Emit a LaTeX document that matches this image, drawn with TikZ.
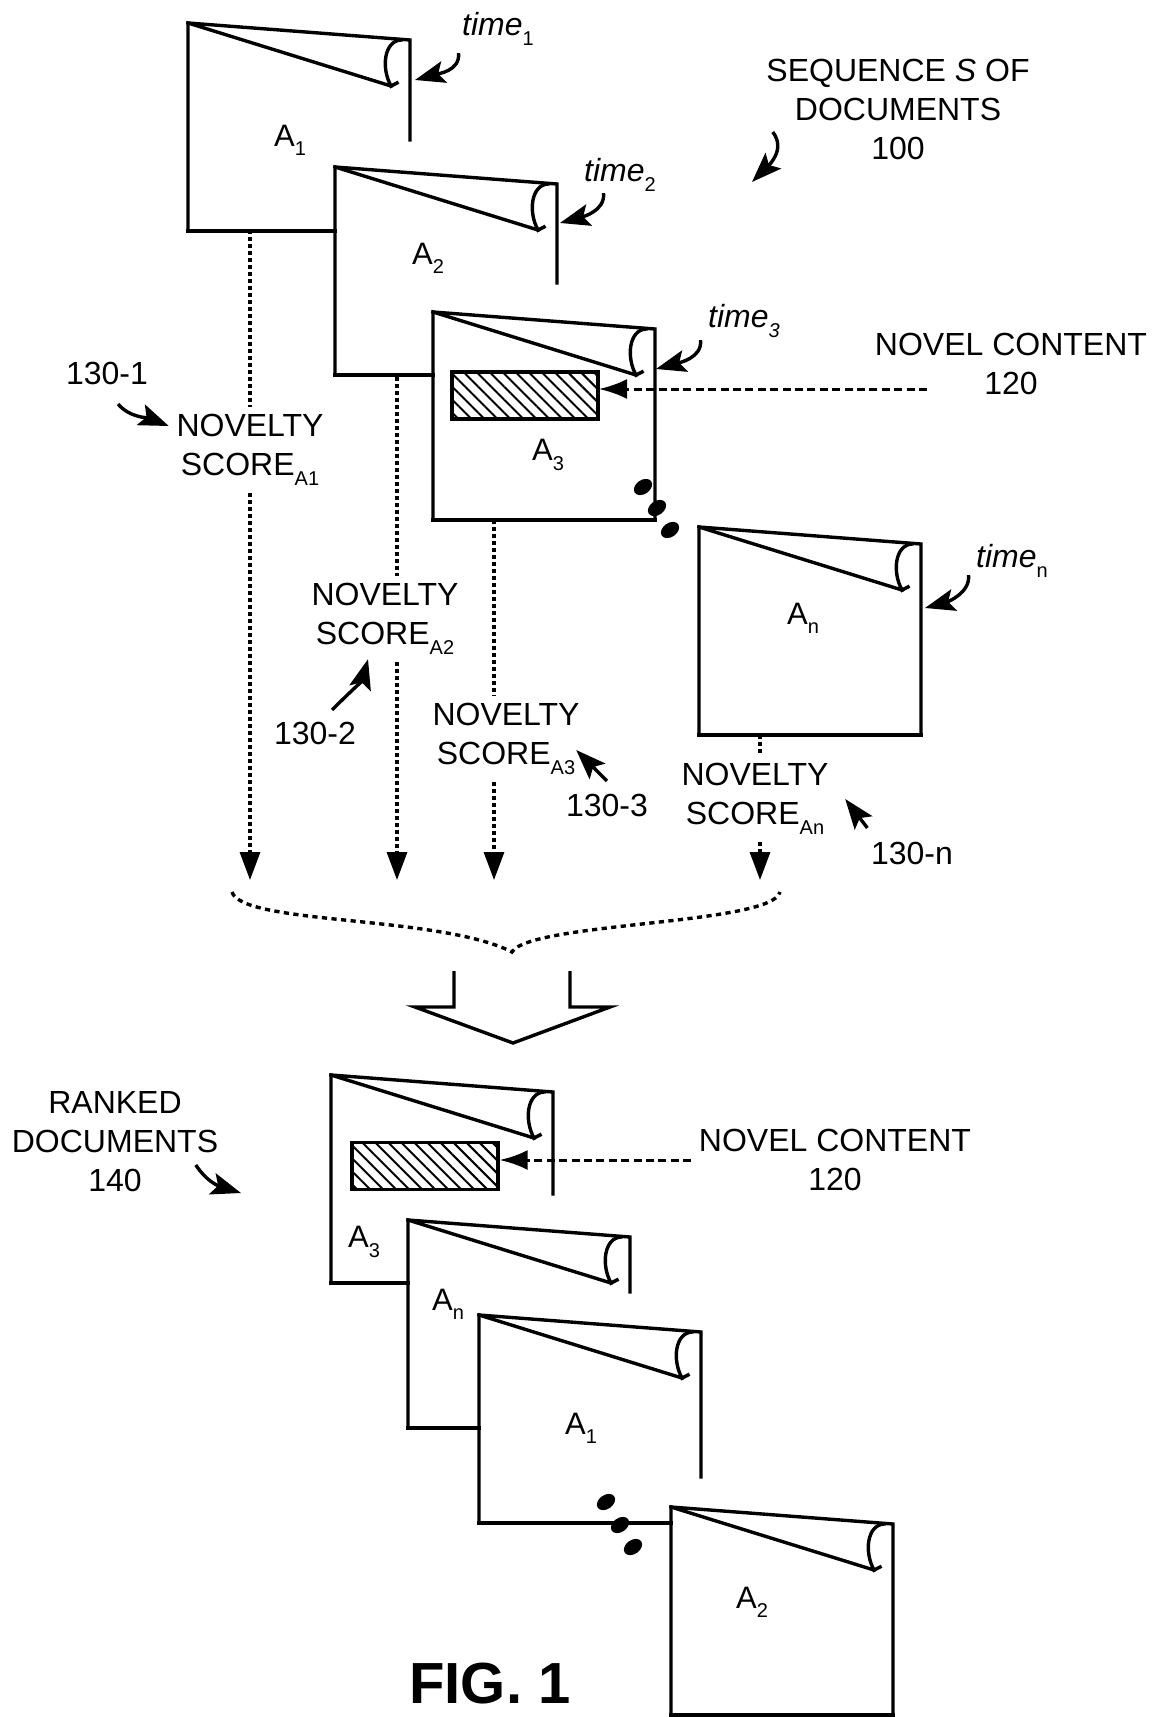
\documentclass[tikz,border=0pt]{standalone}
\usepackage{fontspec}
\setmainfont{Liberation Sans}
\usetikzlibrary{arrows.meta,patterns.meta}

\newcommand{\subtxt}[1]{\raisebox{-0.3em}{\fontsize{10}{12}\selectfont #1}}
% one sheet: top left corner, length of right edge, length of bottom edge
\newcommand{\docsheet}[4]{%
  \begin{scope}[shift={(#1,#2)},line cap=rect]
    \draw (0,208) -- (0,0) -- (222,17) -- (222,17+#3);
    \draw (0,208) -- (#4,208);
    \draw (0,0) -- (203,63);
    \draw (203,63) .. controls (193,45) and (196,18) .. (213,17);
    \draw (203,63) -- (209,60);
  \end{scope}}

\begin{document}
\begin{tikzpicture}[x=0.5pt,y=-0.5pt,line width=1.7pt,
  txt/.style={inner sep=3pt,font=\fontsize{16}{19.5}\selectfont,align=center},
  pagelbl/.style={inner sep=1pt,font=\fontsize{15.5}{18}\selectfont},
  timelbl/.style={inner sep=3pt,font=\fontsize{16}{19.5}\selectfont\itshape},
  dotline/.style={line width=1.6pt,dash pattern=on 1.8pt off 1.7pt},
  dotarrow/.style={dotline,-{Triangle[length=14pt,width=10pt]}},
  dasharrow/.style={line width=1.5pt,dash pattern=on 4pt off 2.2pt,-{Latex[length=14pt,width=10pt]}},
  callout/.style={line width=1.7pt,-{Stealth[length=15pt,width=11pt,inset=3pt]}},
  hatchbox/.style={draw,minimum width=73pt,minimum height=23.5pt,inner sep=0pt,
    pattern={Lines[angle=-45,distance=4.6pt,line width=1pt]}}]

  \useasboundingbox (0,0) rectangle (1153,1717);

  % sequence S of documents
  \docsheet{188}{23}{100}{147}
  \docsheet{335}{167}{99}{98}
  \docsheet{433}{312}{191}{222}
  \docsheet{699}{527}{191}{222}

  \node[pagelbl] (lA1) at (290,140) {A\subtxt{1}};
  \node[pagelbl] (lA2) at (428,258) {A\subtxt{2}};
  \node[pagelbl] (lA3) at (548,455) {A\subtxt{3}};
  \node[pagelbl] (lAn) at (803,618) {A\subtxt{n}};

  \foreach \p in {(643,487),(657,508),(670,530)}
    \fill[rotate around={35:\p}] \p ellipse [x radius=10,y radius=7];

  \node[hatchbox] (nc1) at (525,395.5) {};
  \node[txt] (nov1) at (1011,364) {NOVEL CONTENT\\120};
  \coordinate (nov1end) at (927,389);
  \draw[dasharrow] (nov1end) -- (nov1end -| nc1.east);

  \node[txt] (seq) at (898,109) {SEQUENCE \textit{S} OF\\DOCUMENTS\\100};
  \coordinate (seqend) at (752,182);
  \draw[callout] ([shift={(14,23)}]seq.west) .. controls +(14,18) and +(15,-15) .. (seqend);

  % times
  \node[timelbl] (time1) at (498,29) {time\subtxt{\upshape 1}};
  \node[timelbl] (time2) at (620,175) {time\subtxt{\upshape 2}};
  \node[timelbl] (time3) at (744,321) {time\subtxt{3}};
  \node[timelbl] (timen) at (1012,561) {time\subtxt{\upshape n}};
  \coordinate (t1end) at (415,80);
  \coordinate (t2end) at (560,223);
  \coordinate (t3end) at (656,369);
  \coordinate (tnend) at (925,608);
  \draw[callout] ([shift={(4,0)}]time1.south west) .. controls +(2,18) and +(22,-6) .. (t1end);
  \draw[callout] ([shift={(27,-6)}]time2.south west) .. controls +(2,18) and +(22,-6) .. (t2end);
  \draw[callout] ([shift={(0,-5)}]time3.south west) .. controls +(2,18) and +(22,-6) .. (t3end);
  \draw[callout] ([shift={(0,-10)}]timen.south west) .. controls +(2,18) and +(22,-6) .. (tnend);

  % novelty scores
  \node[txt] (scA1) at (250,450) {NOVELTY\\SCORE\subtxt{A1}};
  \node[txt] (scA2) at (385,619) {NOVELTY\\SCORE\subtxt{A2}};
  \node[txt] (scA3) at (506,739) {NOVELTY\\SCORE\subtxt{A3}};
  \node[txt] (scAn) at (755,799) {NOVELTY\\SCORE\subtxt{An}};

  \coordinate (A1b) at (250,230);
  \coordinate (A2b) at (397,377);
  \coordinate (A3b) at (494,520);
  \coordinate (Anb) at (760,735);
  \coordinate (A1e) at (250,880);
  \coordinate (A2e) at (397,880);
  \coordinate (A3e) at (494,880);
  \coordinate (Ane) at (760,880);
  \draw[dotline] (A1b) -- (A1b |- scA1.north);
  \draw[dotarrow] (A1b |- scA1.south) -- (A1e);
  \draw[dotline] (A2b) -- (A2b |- scA2.north);
  \draw[dotarrow] (A2b |- scA2.south) -- (A2e);
  \draw[dotline] (A3b) -- (A3b |- scA3.north);
  \draw[dotarrow] (A3b |- scA3.south) -- (A3e);
  \draw[dotline] (Anb) -- (Anb |- scAn.north);
  \draw[dotarrow] (Anb |- scAn.south) -- (Ane);

  \node[txt] (l1301) at (107,373) {130-1};
  \node[txt] (l1302) at (315,733) {130-2};
  \node[txt] (l1303) at (607,805) {130-3};
  \node[txt] (l130n) at (912,853) {130-n};
  \draw[callout] ([shift={(11,12)}]l1301.south) .. controls +(12,14) and +(-20,-8) .. ([shift={(0,-24)}]scA1.west);
  \draw[callout] ([shift={(17,-4)}]l1302.north) .. controls +(18,-18) and +(-6,22) .. ([shift={(-17,-3)}]scA2.south);
  \draw[callout] ([shift={(0,-5)}]l1303.north) -- ([shift={(-11,11)}]scA3.east);
  \draw[callout] ([shift={(4,-6)}]l130n.north west) -- ([shift={(9,0)}]scAn.east);

  % brace and merge arrow
  \draw[line width=1.7pt,dash pattern=on 2.6pt off 2.2pt]
    (232,892) .. controls (242,925) and (440,915) .. (512,952)
    .. controls (530,922) and (772,925) .. (780,892);
  \draw[miter limit=20] (454,971) -- (454,1007) -- (415,1007) -- (513,1043)
    -- (610,1007) -- (570,1007) -- (570,971);

  % ranked documents
  \docsheet{331}{1075}{102}{77}
  \docsheet{408}{1220}{55}{71}
  \docsheet{479}{1315}{145}{192}
  \docsheet{671}{1507}{191}{222}

  \node[pagelbl] (rA3) at (364,1242) {A\subtxt{3}};
  \node[pagelbl] (rAn) at (448,1304) {A\subtxt{n}};
  \node[pagelbl] (rA1) at (581,1428) {A\subtxt{1}};
  \node[pagelbl] (rA2) at (752,1602) {A\subtxt{2}};

  \foreach \p in {(606,1502),(620,1525),(633,1547)}
    \fill[rotate around={35:\p}] \p ellipse [x radius=10,y radius=7];

  \node[hatchbox] (nc2) at (425,1166) {};
  \node[txt] (nov2) at (835,1160) {NOVEL CONTENT\\120};
  \draw[dasharrow] (nov2.west) -- (nov2.west -| nc2.east);

  \node[txt] (rank) at (115,1142) {RANKED\\DOCUMENTS\\140};
  \coordinate (rankend) at (241,1193);
  \draw[callout] ([shift={(-30,23)}]rank.east) .. controls +(10,15) and +(-25,-8) .. (rankend);

  \node[font=\fontsize{29}{32}\selectfont\bfseries] (fig) at (490,1684) {FIG. 1};

\end{tikzpicture}
\end{document}
